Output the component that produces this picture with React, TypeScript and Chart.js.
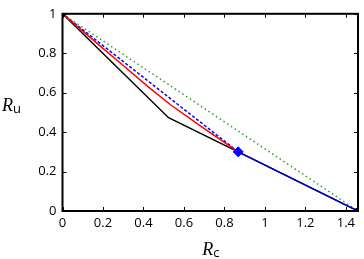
import React, { useEffect, useRef } from "react";
import { Chart, registerables } from "chart.js";
Chart.register(...registerables);

const greenX = [0, 1.46];
const greenY = [1, 0];
const blueDashX = [0, 0.868];
const blueDashY = [1, 0.30];
const redX = [0, 0.1, 0.2, 0.3, 0.433, 0.532, 0.681, 0.868];
const redY = [1, 0.912, 0.825, 0.738, 0.622, 0.54, 0.432, 0.30];
const blackX = [0, 0.524, 0.868, 1.46];
const blackY = [1, 0.473, 0.30, 0];
const blueSolidX = [0.868, 1.46];
const blueSolidY = [0.30, 0];
const diamondX = [0.868];
const diamondY = [0.30];
const dotX = [0, 1.46];
const dotY = [1, 0];
const xTicks = [0, 0.2, 0.4, 0.6, 0.8, 1, 1.2, 1.4];
const yTicks = [0, 0.2, 0.4, 0.6, 0.8, 1];
const xTitle = ["R", "c"];
const yTitle = ["R", "u"];

const pts = (xs: number[], ys: number[]) => xs.map((x, i) => ({ x, y: ys[i] }));

const framePlugin = {
  id: "frame",
  afterDatasetsDraw(chart: any) {
    const { ctx, chartArea: a, scales } = chart;
    const xs = scales.x, ys = scales.y;
    ctx.save();
    ctx.strokeStyle = "#000";
    ctx.lineWidth = 1;
    const tl = 4;
    ctx.beginPath();
    xTicks.forEach((v) => {
      const p = Math.round(xs.getPixelForValue(v)) + 0.5;
      ctx.moveTo(p, a.bottom);
      ctx.lineTo(p, a.bottom - tl);
      ctx.moveTo(p, a.top);
      ctx.lineTo(p, a.top + tl);
    });
    yTicks.forEach((v) => {
      const p = Math.round(ys.getPixelForValue(v)) + 0.5;
      ctx.moveTo(a.left, p);
      ctx.lineTo(a.left + tl, p);
      ctx.moveTo(a.right, p);
      ctx.lineTo(a.right - tl, p);
    });
    ctx.stroke();
    ctx.lineWidth = 2;
    ctx.strokeRect(a.left, a.top, a.right - a.left, a.bottom - a.top);
    // axis titles
    ctx.fillStyle = "#000";
    ctx.textBaseline = "alphabetic";
    ctx.textAlign = "left";
    ctx.font = "italic 18px 'Liberation Serif'";
    const cx = (a.left + a.right) / 2;
    ctx.fillText(xTitle[0], cx - 8, 255);
    const rw = ctx.measureText(xTitle[0]).width;
    ctx.font = "13px 'Open Sans'";
    ctx.fillText(xTitle[1], cx - 8 + rw, 257);
    ctx.font = "italic 18px 'Liberation Serif'";
    ctx.fillText(yTitle[0], 2, 111);
    const rw2 = ctx.measureText(yTitle[0]).width;
    ctx.font = "13px 'Open Sans'";
    ctx.fillText(yTitle[1], 2 + rw2, 113);
    ctx.restore();
  },
};

export default function App() {
  const ref = useRef<HTMLCanvasElement>(null);
  useEffect(() => {
    const line = (xs: number[], ys: number[], color: string, dash: number[], w = 1.5) => ({
      data: pts(xs, ys),
      showLine: true,
      borderColor: color,
      backgroundColor: color,
      borderWidth: w,
      borderDash: dash,
      pointRadius: 0,
      tension: 0,
    });
    const chart = new Chart(ref.current!, {
      type: "scatter",
      data: {
        datasets: [
          { data: pts(dotX, dotY), pointRadius: 3, pointBackgroundColor: "#000", pointBorderColor: "#000", showLine: false } as any,
          { data: pts(diamondX, diamondY), pointStyle: "rectRot", pointRadius: 5, pointBackgroundColor: "#0000ff", pointBorderColor: "#0000ff", showLine: false } as any,
          line(blueSolidX, blueSolidY, "#0000cc", []),
          line(redX, redY, "#ff0000", []),
          line(blueDashX, blueDashY, "#0000ff", [3, 2]),
          line(blackX, blackY, "#000000", []),
          line(greenX, greenY, "#2ea02e", [1.5, 3]),
        ],
      },
      options: {
        animation: false,
        responsive: false,
        maintainAspectRatio: false,
        layout: { padding: { top: 8, right: 6, left: 0, bottom: 0 } },
        plugins: { legend: { display: false }, tooltip: { enabled: false } },
        scales: {
          x: {
            type: "linear",
            min: 0,
            max: 1.46,
            grid: { display: false, drawTicks: false },
            border: { display: false },
            afterFit: (s: any) => { s.height = 48; },
            afterBuildTicks: (s: any) => { s.ticks = xTicks.map((v) => ({ value: v })); },
            ticks: { color: "#000", font: { family: "'Open Sans'", size: 13 }, padding: 4, maxRotation: 0, callback: (v: any) => String(v) },
          },
          y: {
            type: "linear",
            min: 0,
            max: 1,
            grid: { display: false, drawTicks: false },
            border: { display: false },
            afterFit: (s: any) => { s.width = 62.5; },
            afterBuildTicks: (s: any) => { s.ticks = yTicks.map((v) => ({ value: v })); },
            ticks: { color: "#000", font: { family: "'Open Sans'", size: 13 }, padding: 6, callback: (v: any) => String(v) },
          },
        },
      },
      plugins: [framePlugin],
    } as any);
    return () => chart.destroy();
  }, []);
  return (
    <div style={{ position: "fixed", left: 0, top: 0, width: 364, height: 259, background: "#fff" }}>
      <canvas ref={ref} width={364} height={259} style={{ display: "block" }} />
    </div>
  );
}
